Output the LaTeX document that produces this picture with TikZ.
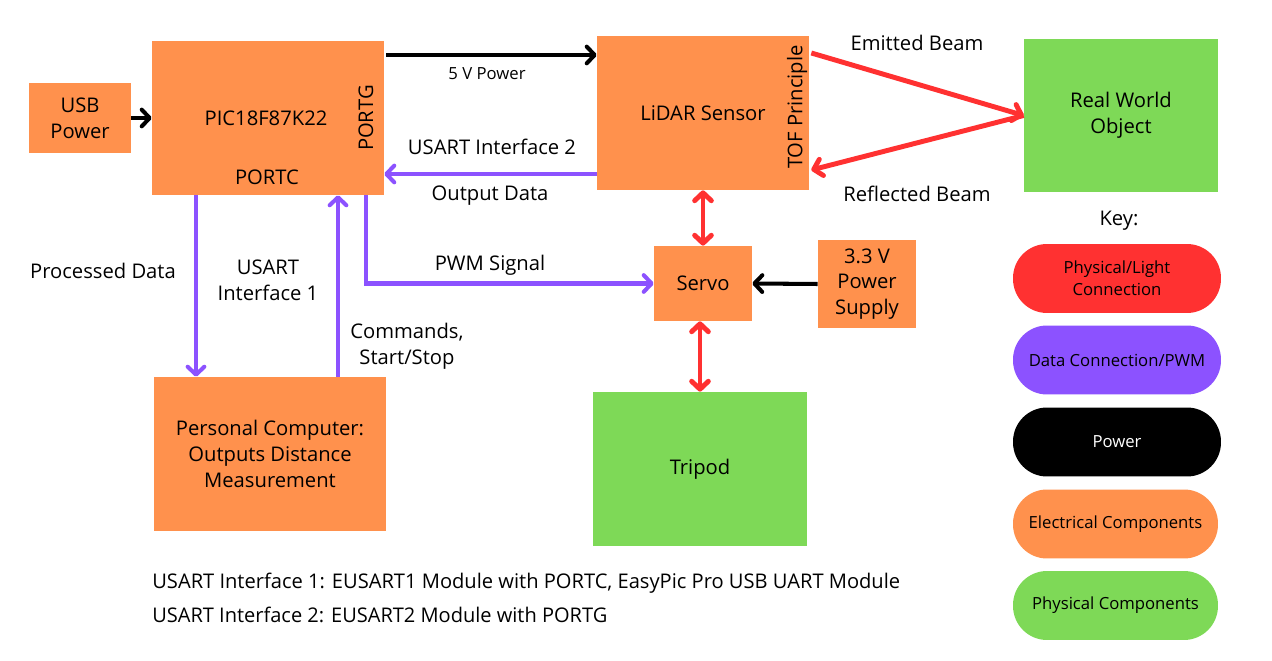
\documentclass[tikz,border=0pt]{standalone}
\usepackage{fontspec}
\setmainfont{Open Sans}
\usetikzlibrary{arrows.meta,calc}
\definecolor{eorange}{HTML}{FF914D}
\definecolor{pgreen}{HTML}{7ED957}
\definecolor{lred}{HTML}{FF3131}
\definecolor{dpurple}{HTML}{8C52FF}
\tikzset{
  box/.style={draw=none,inner sep=0pt,align=center,font=\fontsize{11.5}{14.7}\selectfont},
  ebox/.style={box,fill=eorange},
  gbox/.style={box,fill=pgreen},
  lbl/.style={inner sep=0pt,align=center,font=\fontsize{11.5}{14.7}\selectfont},
  tip/.style={-{Straight Barb[length=4.5pt,width=9.5pt,round]}},
  dtip/.style={{Straight Barb[length=4.5pt,width=9.5pt,round]}-{Straight Barb[length=4.5pt,width=9.5pt,round]}},
  pw/.style={draw=black,line width=2.3pt,tip},
  dat/.style={draw=dpurple,line width=2.3pt,tip},
  lig/.style={draw=lred,line width=2.8pt,tip},
  ligd/.style={draw=lred,line width=2.8pt,dtip},
  pill/.style={draw=none,inner sep=0pt,minimum width=4.16cm,minimum height=1.38cm,rounded corners=0.68cm,align=center,font=\fontsize{9.5}{12.5}\selectfont},
}
\begin{document}
\begin{tikzpicture}[x=0.02cm,y=-0.02cm]
\useasboundingbox[fill=white] (0,0) rectangle (1272,661);
% boxes
\node[ebox,minimum width=2.04cm,minimum height=1.4cm] (usb) at (80,118) {USB\\Power};
\node[ebox,minimum width=4.64cm,minimum height=3.08cm] (pic) at (268,118) {};
\node[lbl] (pictext) at (266,118) {PIC18F87K22};
\node[lbl] (portc) at (267,177) {PORTC};
\node[lbl,rotate=90] (portg) at (366,118) {PORTG};
\node[ebox,minimum width=4.24cm,minimum height=3.08cm] (lidar) at (703,113) {};
\node[lbl] (lidartext) at (703,113) {LiDAR Sensor};
\node[lbl,rotate=90] (tof) at (797,107) {TOF Principle};
\node[gbox,minimum width=3.88cm,minimum height=3.06cm] (rwo) at (1121,115.5) {Real World\\Object};
\node[ebox,minimum width=1.96cm,minimum height=1.5cm] (servo) at (703,283.5) {Servo};
\node[ebox,minimum width=1.96cm,minimum height=1.76cm] (psu) at (867,284) {3.3 V\\Power\\Supply};
\node[gbox,minimum width=4.28cm,minimum height=3.08cm] (tripod) at (700,469) {Tripod};
\node[ebox,minimum width=4.64cm,minimum height=3.08cm] (pc) at (270,454) {Personal Computer:\\Outputs Distance\\Measurement};
% helper coordinates
\coordinate (y55) at (0,55);
\coordinate (y174) at (0,174);
\coordinate (y53) at (0,53);
\coordinate (y170) at (0,170);
\coordinate (x366) at (366,0);
\coordinate (x196) at (196,0);
\coordinate (x338) at (338,0);
% connectors
\draw[pw] (usb.east) -- (pic.west);
\draw[pw] ($(pic.east |- y55)+(2,0)$) -- (lidar.west |- y55);
\draw[dat] (lidar.west |- y174) -- (pic.east |- y174);
\draw[lig] ($(lidar.east |- y53)+(2,0)$) -- (rwo.west);
\draw[lig] (rwo.west) -- ($(lidar.east |- y170)+(2,0)$);
\draw[ligd] (lidar.south) -- (servo.north);
\draw[pw] (psu.west) -- (servo.east);
\draw[dat] (pic.south -| x366) |- (servo.west);
\draw[ligd] (servo.south -| tripod.north) -- (tripod.north);
\draw[dat] (pic.south -| x196) -- (pc.north -| x196);
\draw[dat] (pc.north -| x338) -- (pic.south -| x338);
% labels
\node[lbl,font=\fontsize{9.5}{11}\selectfont] (l5v) at (487,74) {5 V Power};
\node[lbl] (lu2) at (492,147) {USART Interface 2};
\node[lbl] (lout) at (490,196) {Output Data};
\node[lbl] (lem) at (917,43) {Emitted Beam};
\node[lbl] (lref) at (917,194) {Reflected Beam};
\node[lbl] (lpwm) at (490,265) {PWM Signal};
\node[lbl] (lproc) at (103,271) {Processed Data};
\node[lbl] (lu1) at (268,280) {USART\\Interface 1};
\node[lbl] (lcmd) at (407,346) {Commands,\\Start/Stop};
% key
\node[lbl] (key) at (1119,221) {Key:};
\node[pill,fill=lred] (k1) at (1117,278.5) {Physical/Light\\Connection};
\node[pill,fill=dpurple] (k2) at (1117,360) {Data Connection/PWM};
\node[pill,fill=black,text=white] (k3) at (1117,442) {Power};
\node[pill,fill=eorange,minimum width=4.1cm] (k4) at (1115.5,524) {Electrical Components};
\node[pill,fill=pgreen,minimum width=4.1cm] (k5) at (1115.5,605.5) {Physical Components};
% notes
\node[anchor=west,inner sep=0pt,font=\fontsize{11.5}{14}\selectfont] (n1) at (152,583) {\resizebox{14.96cm}{\height}{USART Interface 1: EUSART1 Module with PORTC, EasyPic Pro USB UART Module}};
\node[anchor=west,inner sep=0pt,font=\fontsize{11.5}{14}\selectfont] (n2) at (152,615) {\resizebox{9.1cm}{\height}{USART Interface 2: EUSART2 Module with PORTG}};
\end{tikzpicture}
\end{document}
